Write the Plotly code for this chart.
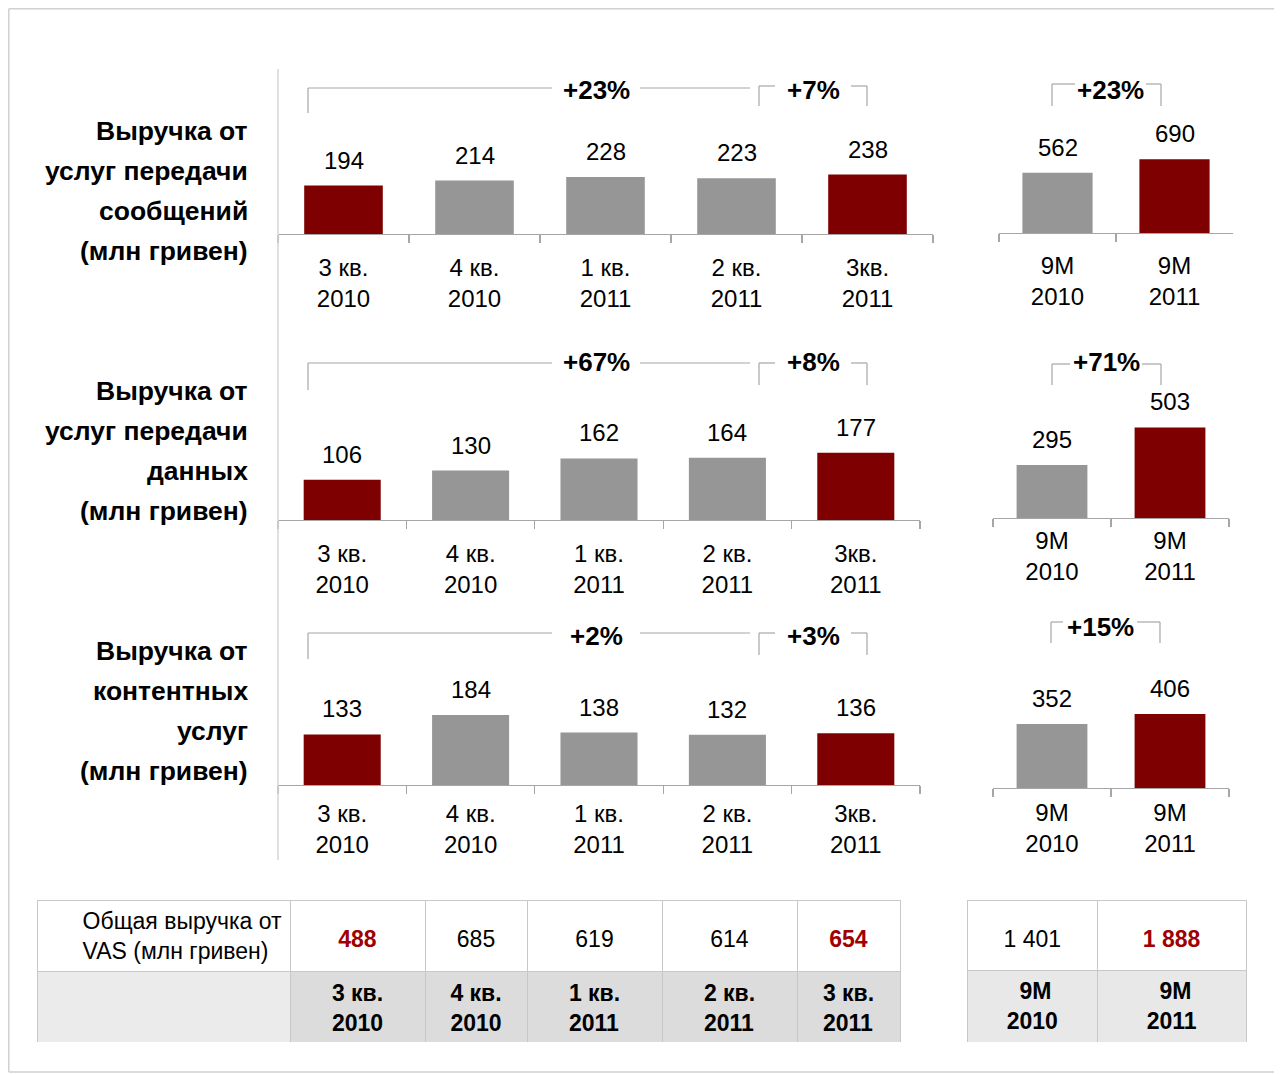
import plotly.graph_objects as go

# The page adds an 8px body margin, so the figure is sized to fit and all
# pixel positions (measured on the 1282x1074 reference) are shifted by it.
OFF = 8
W, H = 1282 - OFF, 1074 - OFF

# ---------------- data ----------------
quarters = ["3 кв.<br>2010", "4 кв.<br>2010", "1 кв.<br>2011", "2 кв.<br>2011", "3кв.<br>2011"]
nine_m = ["9M<br>2010", "9M<br>2011"]

msg_q = [194, 214, 228, 223, 238]
msg_9m = [562, 690]
data_q = [106, 130, 162, 164, 177]
data_9m = [295, 503]
content_q = [133, 184, 138, 132, 136]
content_9m = [352, 406]

growth_msg = ["+23%", "+7%", "+23%"]
growth_data = ["+67%", "+8%", "+71%"]
growth_content = ["+2%", "+3%", "+15%"]

row_titles = [
    ["Выручка от", "услуг передачи", "сообщений", "(млн гривен)"],
    ["Выручка от", "услуг передачи", "данных", "(млн гривен)"],
    ["Выручка от", "контентных", "услуг", "(млн гривен)"],
]

table_label = "Общая выручка от<br>VAS (млн гривен)"
vas_total_q = ["488", "685", "619", "614", "654"]
vas_total_9m = ["1 401", "1 888"]
table_periods_q = ["3 кв.<br>2010", "4 кв.<br>2010", "1 кв.<br>2011", "2 кв.<br>2011", "3 кв.<br>2011"]
table_periods_9m = ["&nbsp;&nbsp;9M<br>2010", "&nbsp;&nbsp;9M<br>2011"]

# ---------------- styles ----------------
RED = "#7f0000"
GREY = "#969696"
TXT_RED = "#a00000"
LINE = "#a6a6a6"
FONT = "Liberation Sans, Arial, sans-serif"
VAL_SIZE = 24

hl_q = [RED, GREY, GREY, GREY, RED]
hl_9m = [GREY, RED]


def X(p):
    return (p - OFF) / W


def Y(p):
    return 1 - (p - OFF) / H


fig = go.Figure()

# panel definitions: cats, values, colors, axis id, x-domain px, baseline px, px per unit, standoff
panels = [
    (quarters, msg_q, hl_q, "", (278, 933), 234, 0.25, 12),
    (nine_m, msg_9m, hl_9m, "2", (999, 1233), 233, 0.107, 11),
    (quarters, data_q, hl_q, "3", (278, 920), 520, 0.38, 12),
    (nine_m, data_9m, hl_9m, "4", (993, 1229), 518, 0.18, 1),
    (quarters, content_q, hl_q, "5", (278, 920), 785, 0.38, 7),
    (nine_m, content_9m, hl_9m, "6", (993, 1229), 788, 0.182, 3),
]

annotations = []
shapes = []
DOM_H = 100
for cats, vals, cols, aid, (xl, xr), base, scale, standoff in panels:
    xa, ya = "x" + aid, "y" + aid
    fig.add_trace(go.Bar(x=cats, y=vals, marker=dict(color=cols, line=dict(width=0)),
                         xaxis=xa, yaxis=ya, hoverinfo="skip"))
    xkey, ykey = "xaxis" + aid, "yaxis" + aid
    fig.layout[xkey] = dict(domain=[X(xl), X(xr)], anchor=ya, type="category",
                            showline=True, linecolor=LINE, linewidth=1.3,
                            ticks="outside", tickson="boundaries", ticklen=8,
                            tickcolor=LINE, tickwidth=1.3, showgrid=False, zeroline=False,
                            tickfont=dict(size=VAL_SIZE, color="black", family=FONT),
                            ticklabelstandoff=standoff, fixedrange=True)
    fig.layout[ykey] = dict(domain=[Y(base), Y(base - DOM_H)], anchor=xa,
                            range=[0, DOM_H / scale], visible=False, fixedrange=True)
    for c, v in zip(cats, vals):
        annotations.append(dict(x=c, y=v, xref=xa, yref=ya, text=str(v), showarrow=False,
                                yanchor="bottom", yshift=10,
                                font=dict(size=VAL_SIZE, color="black", family=FONT)))

# row titles
title_y = [[131, 171, 211, 251], [391, 431, 471, 511], [651, 691, 731, 771]]
for lines, ys in zip(row_titles, title_y):
    for t, yy in zip(lines, ys):
        annotations.append(dict(x=X(250), y=Y(yy), xref="paper", yref="paper", text="<b>%s</b>" % t,
                                showarrow=False, xanchor="right", yanchor="middle",
                                font=dict(size=26.5, color="black", family=FONT)))


def line(x0, y0, x1, y1, color=LINE, width=1.2):
    shapes.append(dict(type="line", xref="paper", yref="paper", x0=X(x0), y0=Y(y0), x1=X(x1), y1=Y(y1),
                       line=dict(color=color, width=width)))


def growth(text, x, y):
    annotations.append(dict(x=X(x), y=Y(y), xref="paper", yref="paper", text="<b>%s</b>" % text,
                            showarrow=False, xanchor="center", yanchor="middle",
                            font=dict(size=26, color="black", family=FONT)))


bracket_rows = [
    (growth_msg, 88, 113, 86, 106, 90, (1052, 1161, 84, 106, 1075, 1146, 1110, 90)),
    (growth_data, 363, 390, 363, 385, 362, (1052, 1161, 364, 385, 1070, 1142, 1106, 362)),
    (growth_content, 633, 659, 633, 655, 636, (1051, 1160, 622, 643, 1063, 1137, 1100, 627)),
]
for g, bt, bb, st, sb, ty, (rx0, rx1, rt, rb, rg0, rg1, rtx, rty) in bracket_rows:
    # big bracket
    line(308, bt, 308, bb)
    line(308, bt, 552, bt)
    line(640, bt, 750, bt)
    growth(g[0], 596, ty)
    # small bracket
    line(759, st, 759, sb)
    line(759, st, 775, st)
    line(851, st, 867, st)
    line(867, st, 867, sb)
    growth(g[1], 813, ty)
    # right bracket
    line(rx0, rt, rx0, rb)
    line(rx0, rt, rg0, rt)
    line(rg1, rt, rx1, rt)
    line(rx1, rt, rx1, rb)
    growth(g[2], rtx, rty)

# separator and frame
line(278, 69, 278, 860, color="#d6d6d6", width=1.5)
line(8.8, 8.8, 1282, 8.8, color="#d0d0d0", width=1.5)
line(8.8, 8.8, 8.8, 1072, color="#d0d0d0", width=1.5)
line(8.8, 1072, 1282, 1072, color="#d0d0d0", width=1.5)

# ---------------- tables ----------------
TB_LINE = "#c8c8c8"
tdom_y = [Y(1042), Y(900)]
TSIZE = 23
NUM_BASE = 18  # base size of number cells; a spacer first line centres the number vertically


def vas_color(i, n):
    return TXT_RED if (i == 0 or i == n - 1) else "black"


def num_cell(v, bold):
    t = "<b>%s</b>" % v if bold else v
    return "&nbsp;<br><span style='font-size:%dpx'>%s</span>" % (TSIZE, t)


q_vals = [num_cell(v, vas_color(i, len(vas_total_q)) != "black") for i, v in enumerate(vas_total_q)]
fig.add_trace(go.Table(
    domain=dict(x=[X(37), X(900)], y=tdom_y),
    columnwidth=[253, 135, 102, 135, 135, 103],
    header=dict(values=[table_label] + q_vals,
                align=["right"] + ["center"] * 5,
                height=70, fill_color="white",
                line=dict(color=TB_LINE, width=1),
                font=dict(family=FONT, size=[TSIZE] + [NUM_BASE] * 5,
                          color=["black"] + [vas_color(i, 5) for i in range(5)])),
    cells=dict(values=[[""]] + [["<b>%s</b>" % p] for p in table_periods_q],
               align=["right"] + ["center"] * 5,
               height=72, fill_color=["#ebebeb"] + ["#dcdcdc"] * 5,
               line=dict(color=TB_LINE, width=1),
               font=dict(family=FONT, size=TSIZE, color="black")),
))

m_vals = [num_cell(v, i == 1) for i, v in enumerate(vas_total_9m)]
fig.add_trace(go.Table(
    domain=dict(x=[X(967), X(1246)], y=tdom_y),
    columnwidth=[130, 148],
    header=dict(values=m_vals, align="center", height=70, fill_color="white",
                line=dict(color=TB_LINE, width=1),
                font=dict(family=FONT, size=NUM_BASE, color=["black", TXT_RED])),
    cells=dict(values=[["<b>%s</b>" % p] for p in table_periods_9m],
               align="center", height=72, fill_color="#e8e8e8",
               line=dict(color=TB_LINE, width=1),
               font=dict(family=FONT, size=TSIZE, color="black")),
))

fig.update_layout(width=W, height=H, margin=dict(l=0, r=0, t=0, b=0),
                  paper_bgcolor="white", plot_bgcolor="rgba(0,0,0,0)",
                  showlegend=False, bargap=0.4,
                  font=dict(family=FONT, size=VAL_SIZE, color="black"),
                  annotations=annotations, shapes=shapes)

fig.write_html("out.html", config={"displayModeBar": False, "staticPlot": True})
